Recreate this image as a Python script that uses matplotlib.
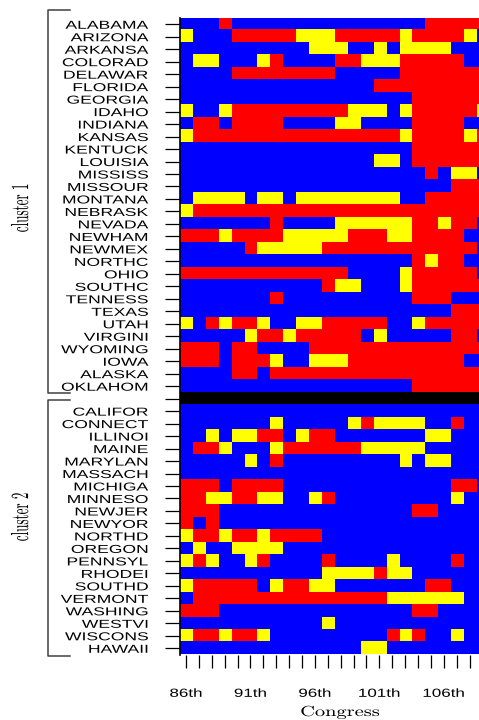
import numpy as np
import matplotlib
matplotlib.use("Agg")
import matplotlib.pyplot as plt
from matplotlib.colors import ListedColormap
from matplotlib.lines import Line2D
from matplotlib.patheffects import AbstractPathEffect
from matplotlib.transforms import Affine2D

# party control per congress: B = blue, R = red, Y = yellow (split)
states_cluster1 = ["ALABAMA", "ARIZONA", "ARKANSA", "COLORAD", "DELAWAR", "FLORIDA",
                   "GEORGIA", "IDAHO", "INDIANA", "KANSAS", "KENTUCK", "LOUISIA",
                   "MISSISS", "MISSOUR", "MONTANA", "NEBRASK", "NEVADA", "NEWHAM",
                   "NEWMEX", "NORTHC", "OHIO", "SOUTHC", "TENNESS", "TEXAS", "UTAH",
                   "VIRGINI", "WYOMING", "IOWA", "ALASKA", "OKLAHOM"]
votes_cluster1 = [
    "BBBRBBBBBBBBBBBBBBBRRRRR",
    "YBBBRRRRRYYYRRRRRYRRRRYB",
    "BBBBBBBBBBYYYBBYBYYYYBBB",
    "BYYBBBYRBBBBRRYYYRRRRRBB",
    "BBBBRRRRRRRRBBBBBRRRRRRR",
    "BBBBBBBBBBBBBBBRRRRRRRRR",
    "BBBBBBBBBBBBBBBBBBRRRRRR",
    "YBBYRRRRRRRRRYYYBYRRRRRY",
    "BRRBRRRRBBBBYYBBBBRRRRBB",
    "YRRRRRRRRRRRRRRRRYRRRRYR",
    "BBBBBBBBBBBBBBBBBBRRRRRR",
    "BBBBBBBBBBBBBBBYYBRRRRRR",
    "BBBBBBBBBBBBBBBBBBBRBYYB",
    "BBBBBBBBBBBBBBBBBBBBBRRR",
    "BYYYYBYYBYYYYYYYYBBRRRRR",
    "YRRRRRRRRRRRRRRRRRRRRRRR",
    "BBBBBBBRBBBBYYYYYYRRYRRB",
    "RRRYRRRRYYYYYRRRYYRRRRBB",
    "BBBBBRYYYYYRRRRRRRRRRRRB",
    "BBBBBBBBBBBBBBBBBBRYRRBB",
    "RRRRRRRRRRRRRBBBBYRRRRRB",
    "BBBBBBBBBBBRYYBBBYRRRRRR",
    "BBBBBBBRBBBBBBBBBBRRRBBB",
    "BBBBBBBBBBBBBBBBBBBBBRRR",
    "YBRYRRYBBYYRRRRRBBYRRRRR",
    "BBBBBYRRYRRRRRBYBBBBBRRB",
    "RRRBRRBBBBRRRRRRRRRRRRRR",
    "RRRBRRRYBBYYYRRRRRRRRRBB",
    "BBBBRRBRRRRRRRRRRRRRRRRR",
    "BBBBBBBBBBBBBBBBBBRRRRRR",
]

states_cluster2 = ["CALIFOR", "CONNECT", "ILLINOI", "MAINE", "MARYLAN", "MASSACH",
                   "MICHIGA", "MINNESO", "NEWJER", "NEWYOR", "NORTHD", "OREGON",
                   "PENNSYL", "RHODEI", "SOUTHD", "VERMONT", "WASHING", "WESTVI",
                   "WISCONS", "HAWAII"]
votes_cluster2 = [
    "BBBBBBBBBBBBBBBBBBBBBBBB",
    "BBBBBBBYBBBBBYRYYYYBBRBB",
    "BBYBYYRRBYRRBBBBBBBYYBBB",
    "BRRYBBBYRRRRRRYYYYYBBBBB",
    "BBBBBYBRBBBBBBBBBYBYYBBB",
    "BBBBBBBBBBBBBBBBBBBBBBBB",
    "RRRBRRRRBBBBBBBBBBBBBRRB",
    "RRYYRRYYBBYRBBBBBBBBBYBB",
    "RRRBBBBBBBBBBBBBBBRRBBBB",
    "RBRBBBBBBBBBBBBBBBBBBBBB",
    "YRRYRRYRRRRBBBBBBBBBBBBB",
    "BYBBYYYYBBBBBBBBBBBBBBBB",
    "YRYBBYRBBBBRBBBBYBBBBRBB",
    "BBBBBBBBBBBYYYYRYYBBBBBB",
    "YRRRRRBYRRYYBBBBBBBRRBBB",
    "BRRRRRRRRRRRRRRRYYYYYYBB",
    "RRRBBBBBBBBBBBBBBBRRBBBB",
    "BBBBBBBBBBBYBBBBBBBBBBBB",
    "YRRYRRYBBBBBBBBBRYRBBYBB",
    "BBBBBBBBBBBBBBYYBBBBBBBB",
]

congress_labels = ["86th", "", "", "", "", "91th", "", "", "", "", "96th", "", "", "", "",
                   "101th", "", "", "", "", "106th", "", "", ""]


class Stretch(AbstractPathEffect):
    """Scale glyph outlines around an anchor (text in the source is widened)."""

    def __init__(self, sx=1.0, sy=1.0, anchor="center"):
        super().__init__()
        self.sx, self.sy, self.anchor = sx, sy, anchor

    def draw_path(self, renderer, gc, tpath, affine, rgbFace=None):
        ext = tpath.get_extents()
        if self.anchor == "right":
            px = ext.x1
        elif self.anchor == "left":
            px = ext.x0
        else:
            px = (ext.x0 + ext.x1) / 2
        py = (ext.y0 + ext.y1) / 2
        t = Affine2D().translate(-px, -py).scale(self.sx, self.sy).translate(px, py)
        renderer.draw_path(gc, tpath, t + affine, rgbFace)


code = {"B": 0, "R": 1, "Y": 2}
ncol = len(votes_cluster1[0])
rows = [[code[c] for c in r] for r in votes_cluster1]
rows.append([3] * ncol)  # separator
rows += [[code[c] for c in r] for r in votes_cluster2]
grid = np.array(rows)
row_labels = states_cluster1 + [""] + states_cluster2
nrow = len(row_labels)

W, H = 479, 720
fig = plt.figure(figsize=(W / 100, H / 100), dpi=100)
left, top, bottom = 179.5, 18.0, 654.5
colw = 12.89
ax = fig.add_axes([left / W, 1 - bottom / H, ncol * colw / W, (bottom - top) / H])

cmap = ListedColormap(["#0000ff", "#ff0000", "#ffff00", "#000000"])
ax.imshow(grid, cmap=cmap, vmin=-0.5, vmax=3.5, aspect="auto", interpolation="nearest",
          extent=(-0.5, ncol - 0.5, nrow - 0.5, -0.5))
ax.set_xlim(-0.5, ncol - 0.5)
ax.set_ylim(nrow - 0.5, -0.5)

for s in ["top", "right", "bottom"]:
    ax.spines[s].set_visible(False)
ax.spines["left"].set_linewidth(1.2)

ax.set_yticks(range(nrow))
ax.set_yticklabels(row_labels, family="Liberation Sans", fontsize=8.3,
                   path_effects=[Stretch(sx=1.52, anchor="right")])
ax.tick_params(axis="y", length=10.5, width=0.9, pad=12)

ax.set_xticks(range(ncol))
ax.set_xticklabels(congress_labels, family="Liberation Sans", fontsize=8.5,
                   path_effects=[Stretch(sx=1.44, anchor="center")])
ax.tick_params(axis="x", length=9, width=0.9, pad=15)

fig.text(340 / W, 1 - 716 / H, "Congress", family="cmr10", fontsize=10.5,
         ha="center", va="baseline", path_effects=[Stretch(sx=1.4)])
fig.text(21 / W, 1 - 208 / H, "cluster 1", family="cmr10", fontsize=9.4, rotation=90,
         ha="center", va="center", path_effects=[Stretch(sy=1.9)])
fig.text(21 / W, 1 - 517 / H, "cluster 2", family="cmr10", fontsize=9.4, rotation=90,
         ha="center", va="center", path_effects=[Stretch(sy=1.9)])

# brackets
for y0, y1 in [(10, 393), (400, 656)]:
    xs = np.array([70, 48, 48, 70]) / W
    ys = 1 - np.array([y0, y0, y1, y1]) / H
    fig.add_artist(Line2D(xs, ys, transform=fig.transFigure, color="#404040", lw=1.1))

fig.savefig("out.png", dpi=100)
